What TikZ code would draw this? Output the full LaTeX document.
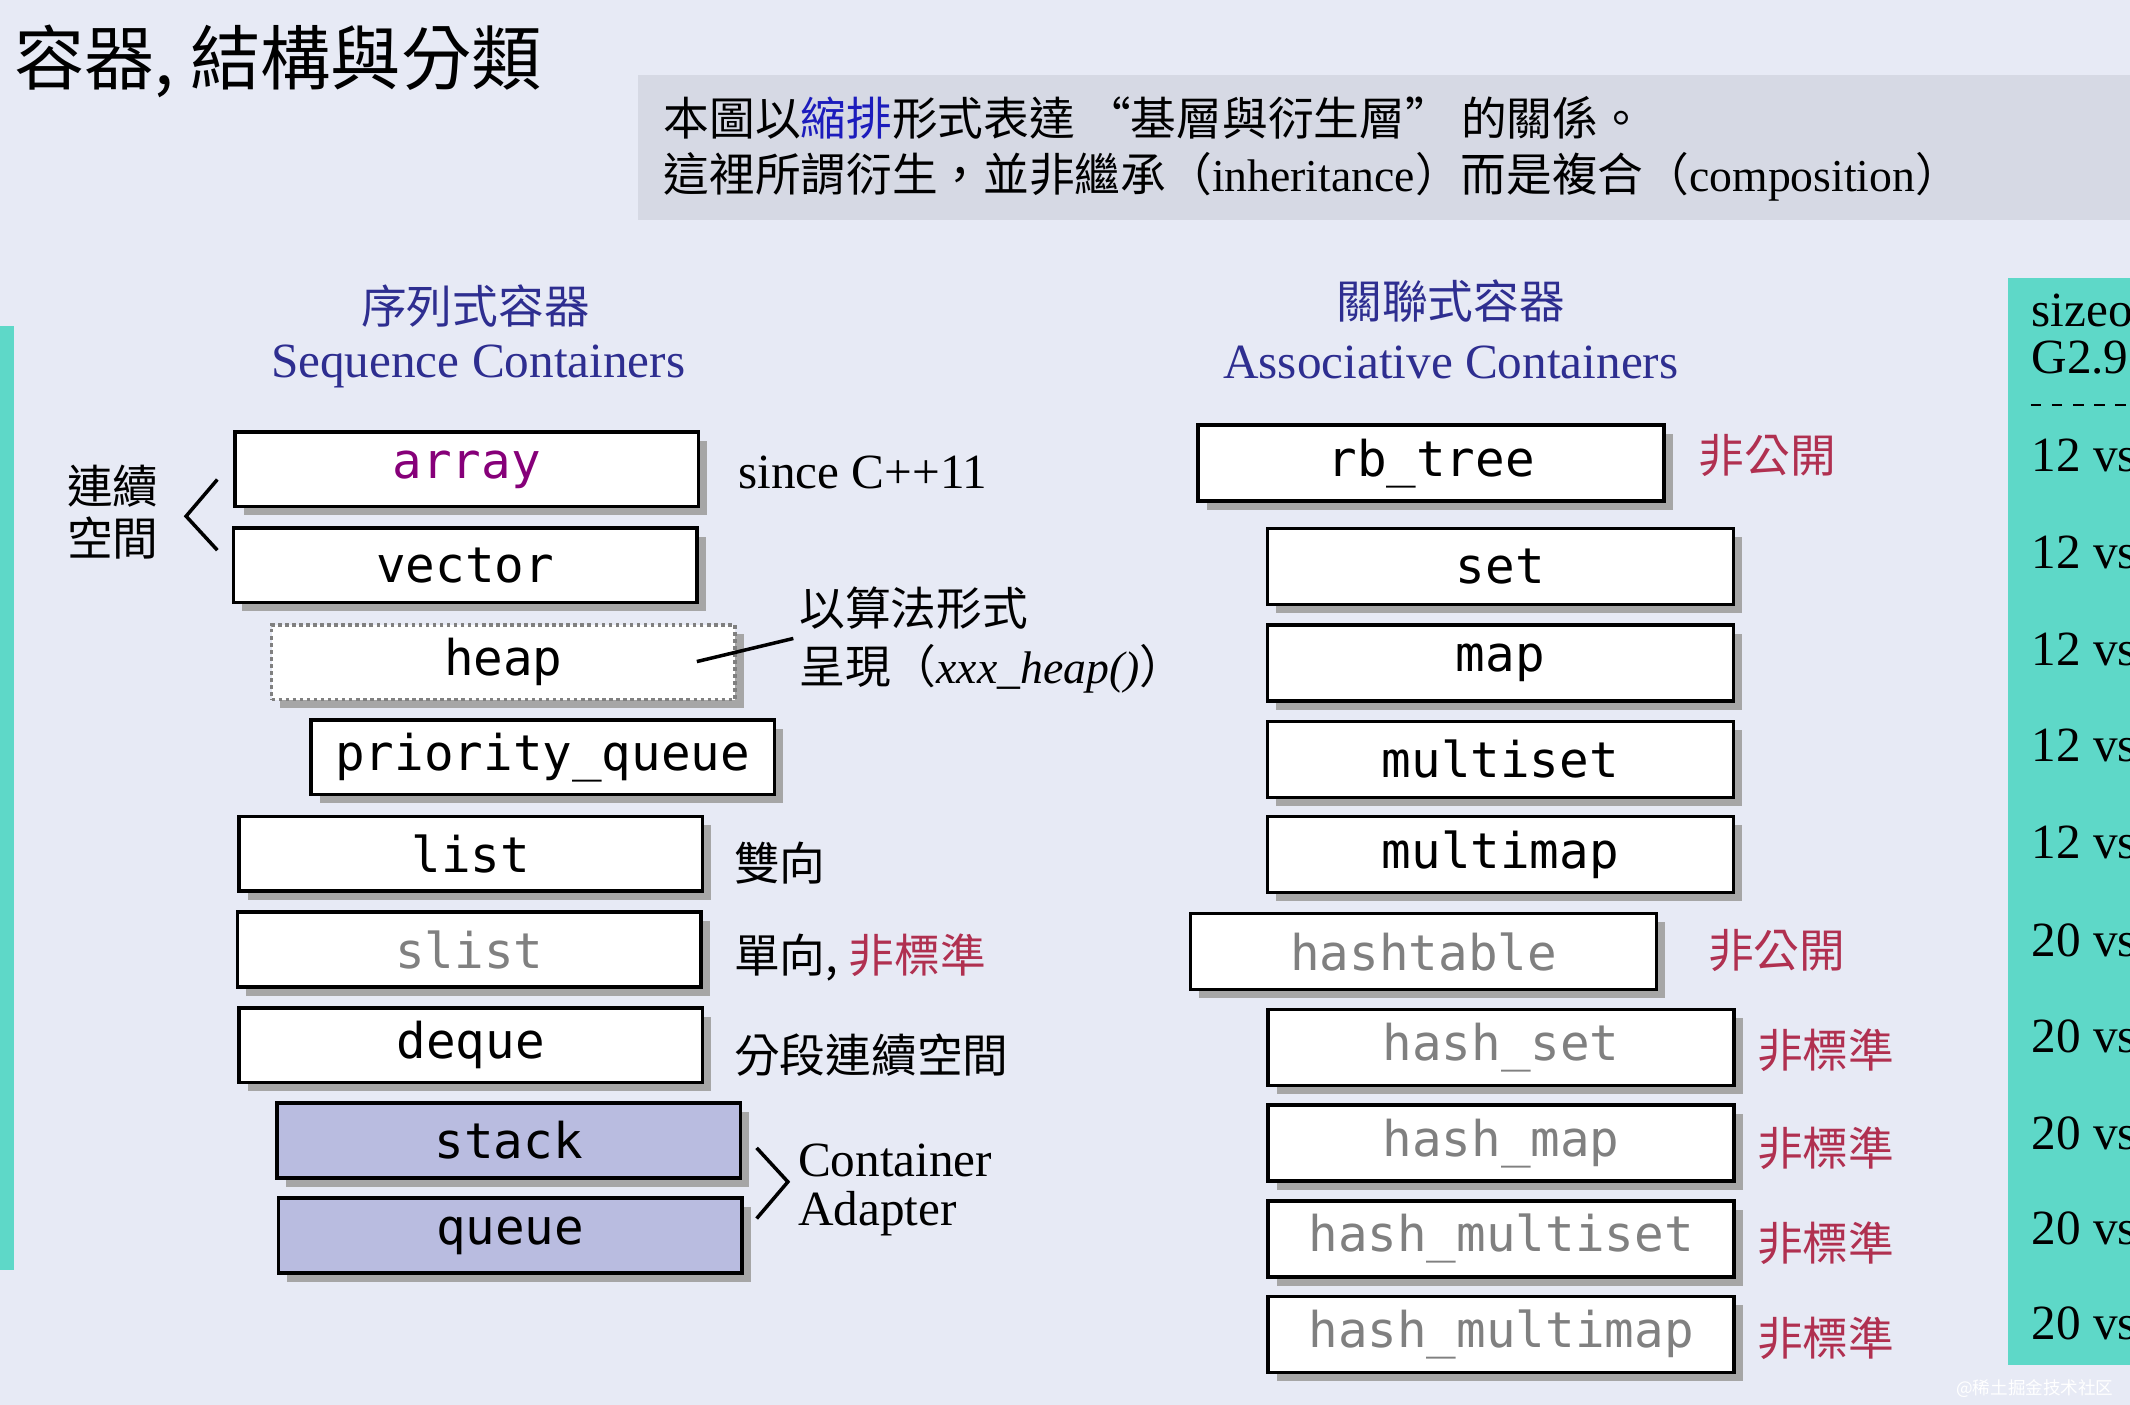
\documentclass[tikz,border=0pt]{standalone}
\usepackage{fontspec}
\setmainfont{Liberation Serif}
\setmonofont{DejaVu Sans Mono}
\newfontfamily\cjk{Noto Sans CJK TC}
\usetikzlibrary{shadows}
\definecolor{bg}{HTML}{E7EAF5}
\definecolor{hdr}{HTML}{2E2E90}
\definecolor{redc}{HTML}{B03050}
\definecolor{cyanp}{HTML}{5ED8C8}
\definecolor{lav}{HTML}{B9BCE0}
\definecolor{grayb}{HTML}{D6D9E4}
\begin{document}
\begin{tikzpicture}[x=0.013584cm,y=-0.013584cm,
 box/.style={draw=black,line width=1pt,fill=white,minimum width=4.632cm,minimum height=0.747cm,inner sep=0pt,font=\ttfamily\fontsize{14}{14}\selectfont,drop shadow={shadow xshift=2.5pt,shadow yshift=-2.5pt,fill=gray!70,opacity=1}},
 rbox/.style={box,minimum width=4.66cm,minimum height=0.76cm},
 lbl/.style={font=\cjk\fontsize{13}{15}\selectfont,anchor=west,inner sep=0pt},
 en/.style={font=\fontsize{14}{16}\selectfont,inner sep=0pt},
 hd/.style={text=hdr,font=\fontsize{14}{16}\selectfont,inner sep=0pt}]
\useasboundingbox (0,0) rectangle (1568,1034);
\fill[bg] (0,0) rectangle (1568,1034);
\fill[grayb] (470,55) rectangle (1568,162);
\fill[cyanp] (0,240) rectangle (10,935);
\fill[cyanp] (1478,205) rectangle (1568,1005);
% title
\node[font=\cjk\fontsize{20}{22}\selectfont,anchor=west,inner sep=0pt] (title) at (10,45) {容器, 結構與分類};
\node[lbl] (n1) at (488,87) {本圖以\textcolor{hdr!60!blue}{縮排}形式表達 “基層與衍生層” 的關係。};
\node[lbl] (n2) at (488,130) {這裡所謂衍生，並非繼承（\fontspec{Liberation Serif}inheritance\cjk）而是複合（\fontspec{Liberation Serif}composition\cjk）};
% right panel
\begin{scope}
\clip (1478,205) rectangle (1568,1005);
\node[en,anchor=west] (sz) at (1495,228) {sizeof};
\node[en,anchor=west] (g29) at (1495,263) {G2.9 vs};
\draw[dashed] (1495,298) -- (1568,298);
\foreach \y/\t in {335/12,407/12,478/12,549/12,620/12,692/20,763/20,834/20,904/20,974/20}
 \node[en,anchor=west] at (1495,\y) {\t{} vs};
\end{scope}
% headers
\node[hd,font=\cjk\fontsize{13}{15}\selectfont] (h1) at (350,225) {序列式容器};
\node[hd] (h2) at (352,270) {Sequence Containers};
\node[hd,font=\cjk\fontsize{13}{15}\selectfont] (h3) at (1068,222) {關聯式容器};
\node[hd] (h4) at (1068,267) {Associative Containers};
% left boxes
\node[box,text=purple!70!blue] (array) at (343.5,345.5) {array};
\node[box] (vector) at (342.5,416) {vector};
\node[box,densely dotted,draw=gray] (heap) at (370.5,487.5) {heap};
\node[box] (pq) at (399.5,557.5) {priority\_queue};
\node[box] (list) at (346.5,628.5) {list};
\node[box,text=gray] (slist) at (345.5,699) {slist};
\node[box] (deque) at (346.5,769.5) {deque};
\node[box,fill=lav] (stack) at (374.5,839.5) {stack};
\node[box,fill=lav] (queue) at (375.5,909.5) {queue};
% right boxes
\node[rbox] (rb) at (1053.5,341) {rb\_tree};
\node[rbox] (set) at (1104.5,417) {set};
\node[rbox] (map) at (1104.5,488) {map};
\node[rbox] (ms) at (1104.5,559) {multiset};
\node[rbox] (mm) at (1104.5,629) {multimap};
\node[rbox,text=gray] (ht) at (1048,700.5) {hashtable};
\node[rbox,text=gray] (hs) at (1105,771) {hash\_set};
\node[rbox,text=gray] (hm) at (1105,841.5) {hash\_map};
\node[rbox,text=gray] (hms) at (1105,912) {hash\_multiset};
\node[rbox,text=gray] (hmm) at (1105,982.5) {hash\_multimap};
% labels
\node[en,anchor=west] (c11) at (543,348) {since C++11};
\node[lbl,align=center,anchor=center] (lx) at (83,377) {連續\\空間};
\coordinate (b1) at (160,353); \coordinate (b2) at (137,380); \coordinate (b3) at (160,405);
\draw[line width=1pt] (b1) -- (b2) -- (b3);
\node[lbl] (alg1) at (588,448) {以算法形式};
\node[lbl] (alg2) at (588,492) {呈現（\fontspec{Liberation Serif}\itshape xxx\_heap()\cjk）};
\coordinate (hl) at (513,487); \coordinate (hr) at (584,470);
\draw[line width=1pt] (hl) -- (hr);
\node[lbl] (l1) at (540,635) {雙向};
\node[lbl] (l2) at (540,705) {單向, \textcolor{redc}{非標準}};
\node[lbl] (l3) at (540,777) {分段連續空間};
\coordinate (a1) at (557,845); \coordinate (a2) at (580,870); \coordinate (a3) at (557,897);
\draw[line width=1pt] (a1) -- (a2) -- (a3);
\node[en,anchor=west,align=left] (ca) at (587,876) {Container\\[-2pt]Adapter};
\node[lbl,text=redc] (r1) at (1250,335) {非公開};
\node[lbl,text=redc] (r2) at (1257,700) {非公開};
\foreach \y/\n in {773/s1,845/s2,915/s3,985/s4}
 \node[lbl,text=redc] (\n) at (1293,\y) {非標準};
\node[font=\cjk\fontsize{5}{6}\selectfont,text=white,anchor=east] (wm) at (1565,1022) {@稀土掘金技术社区};
\end{tikzpicture}
\end{document}
